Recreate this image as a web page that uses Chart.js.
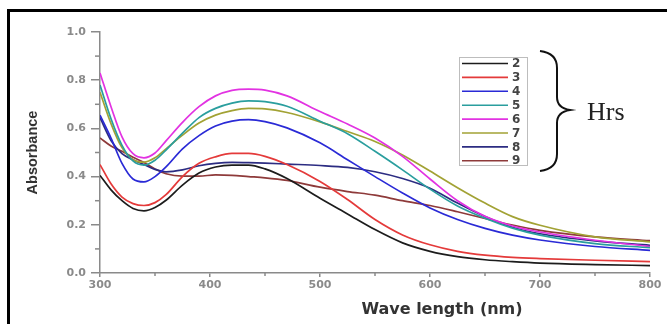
<!DOCTYPE html>
<html><head><meta charset="utf-8">
<script src="https://cdn.jsdelivr.net/npm/chart.js@4/dist/chart.umd.min.js"></script>
<style>html,body{margin:0;padding:0;background:#fff;}#wrap{width:667px;height:324px;position:relative;}</style>
</head><body><div id="wrap"><canvas id="c"></canvas></div>
<script>
const wavelengths = [300,310,320,330,340,350,360,375,390,405,420,435,450,470,500,525,550,575,600,625,650,675,700,750,800];
const hrs2 = [0.405,0.345,0.300,0.268,0.258,0.272,0.302,0.365,0.415,0.440,0.448,0.448,0.432,0.392,0.310,0.245,0.180,0.125,0.090,0.068,0.055,0.047,0.041,0.035,0.031];
const hrs3 = [0.450,0.370,0.315,0.288,0.280,0.292,0.325,0.400,0.455,0.482,0.496,0.496,0.484,0.450,0.380,0.305,0.222,0.158,0.117,0.090,0.074,0.065,0.060,0.053,0.047];
const hrs4 = [0.655,0.560,0.455,0.390,0.378,0.400,0.440,0.515,0.570,0.610,0.630,0.636,0.628,0.602,0.540,0.470,0.400,0.332,0.270,0.222,0.185,0.157,0.137,0.110,0.094];
const hrs5 = [0.780,0.640,0.530,0.465,0.448,0.468,0.510,0.580,0.645,0.683,0.705,0.714,0.711,0.692,0.630,0.578,0.505,0.428,0.348,0.278,0.227,0.186,0.157,0.122,0.105];
const hrs6 = [0.830,0.690,0.565,0.495,0.478,0.498,0.548,0.625,0.690,0.735,0.758,0.763,0.759,0.735,0.670,0.618,0.560,0.484,0.390,0.300,0.235,0.195,0.170,0.136,0.110];
const hrs7 = [0.750,0.620,0.520,0.470,0.460,0.478,0.515,0.572,0.622,0.655,0.674,0.683,0.681,0.666,0.627,0.587,0.546,0.490,0.423,0.354,0.290,0.234,0.198,0.150,0.129];
const hrs8 = [0.645,0.550,0.495,0.470,0.450,0.430,0.420,0.428,0.445,0.455,0.459,0.458,0.456,0.452,0.446,0.438,0.420,0.392,0.352,0.290,0.234,0.190,0.163,0.133,0.115];
const hrs9 = [0.560,0.527,0.505,0.480,0.458,0.432,0.412,0.402,0.402,0.407,0.405,0.400,0.395,0.384,0.356,0.338,0.323,0.300,0.280,0.254,0.226,0.199,0.177,0.150,0.134];
const seriesLabels = ['2','3','4','5','6','7','8','9'];
const seriesValues = [hrs2,hrs3,hrs4,hrs5,hrs6,hrs7,hrs8,hrs9];
const seriesColors = ['#1c1c1c','#e43a3a','#2a2ad6','#2a9e9e','#e232e2','#a2a234','#2c2c82','#8e3a3a'];
const xTickValues = [300,400,500,600,700,800];
const yTickValues = [0.0,0.2,0.4,0.6,0.8,1.0];
const xMinorTicks = [350,450,550,650,750];
const yMinorTicks = [0.1,0.3,0.5,0.7,0.9];
const xTitle = 'Wave length (nm)';
const yTitle = 'Absorbance';
const groupLabel = 'Hrs';

const axisGray = '#8a8a8a';

const decor = {
  id: 'decor',
  beforeDraw(chart) {
    const ctx = chart.ctx;
    ctx.save();
    ctx.fillStyle = '#000';
    ctx.fillRect(7, 9, 660, 3);
    ctx.fillRect(7, 9, 3, 315);
    ctx.restore();
  },
  afterDraw(chart) {
    const ctx = chart.ctx;
    const xs = chart.scales.x, ys = chart.scales.y;
    ctx.save();
    ctx.strokeStyle = axisGray; ctx.lineWidth = 1.5;
    yMinorTicks.forEach(v => {
      const py = ys.getPixelForValue(v);
      ctx.beginPath(); ctx.moveTo(xs.left - 5, py); ctx.lineTo(xs.left, py); ctx.stroke();
    });
    xMinorTicks.forEach(v => {
      const px = xs.getPixelForValue(v);
      ctx.beginPath(); ctx.moveTo(px, ys.bottom); ctx.lineTo(px, ys.bottom + 3); ctx.stroke();
    });
    ctx.fillStyle = '#333';
    ctx.font = 'bold 16px "DejaVu Sans"';
    ctx.textAlign = 'center'; ctx.textBaseline = 'middle';
    ctx.fillText(xTitle, 442, 310);
    const lx = 459.5, ly = 57.5, lw = 68, lh = 108;
    ctx.strokeStyle = '#bdbdbd'; ctx.lineWidth = 1;
    ctx.strokeRect(lx, ly, lw, lh);
    chart.data.datasets.forEach((ds, i) => {
      const y = 63.5 + i * 13.9;
      ctx.strokeStyle = ds.borderColor; ctx.lineWidth = 1.6;
      ctx.beginPath(); ctx.moveTo(462, y); ctx.lineTo(508, y); ctx.stroke();
      ctx.fillStyle = '#444';
      ctx.font = 'bold 12px "DejaVu Sans"';
      ctx.textAlign = 'left'; ctx.textBaseline = 'middle';
      ctx.fillText(ds.label, 512, y + 0.5);
    });
    ctx.strokeStyle = '#111'; ctx.lineWidth = 2;
    ctx.beginPath();
    ctx.moveTo(540, 51);
    ctx.quadraticCurveTo(557, 53, 557, 68);
    ctx.lineTo(557, 97);
    ctx.quadraticCurveTo(557, 108, 570, 110);
    ctx.quadraticCurveTo(557, 112, 557, 123);
    ctx.lineTo(557, 154);
    ctx.quadraticCurveTo(557, 169, 540, 171);
    ctx.stroke();
    ctx.fillStyle = '#222';
    ctx.font = '26px "Liberation Serif"';
    ctx.textAlign = 'left'; ctx.textBaseline = 'alphabetic';
    ctx.fillText(groupLabel, 587, 120);
    ctx.restore();
  }
};

const datasets = seriesLabels.map((lab, i) => ({
  label: lab,
  data: wavelengths.map((w, j) => ({x: w, y: seriesValues[i][j]})),
  borderColor: seriesColors[i],
  backgroundColor: seriesColors[i],
  borderWidth: 1.7,
  pointRadius: 0,
  fill: false,
  cubicInterpolationMode: 'monotone'
}));

new Chart(document.getElementById('c'), {
  type: 'line',
  data: { datasets },
  options: {
    responsive: true,
    maintainAspectRatio: false,
    devicePixelRatio: 1,
    animation: false,
    layout: { padding: { top: 32, right: 17, bottom: 0, left: 0 } },
    plugins: { legend: { display: false }, tooltip: { enabled: false } },
    scales: {
      x: {
        type: 'linear', min: 300, max: 800,
        afterBuildTicks: s => { s.ticks = xTickValues.map(v => ({value: v})); },
        afterFit: s => { s.height = 51; },
        ticks: { color: '#8a8a8a', font: { family: 'DejaVu Sans', weight: 'bold', size: 11 }, padding: 2, maxRotation: 0 },
        grid: { drawOnChartArea: false, tickLength: 4, color: axisGray, lineWidth: 1.5 },
        border: { color: axisGray, width: 1.5 }
      },
      y: {
        type: 'linear', min: 0, max: 1,
        afterBuildTicks: s => { s.ticks = yTickValues.map(v => ({value: v})); },
        afterFit: s => { s.width = 100; },
        ticks: { color: '#8a8a8a', font: { family: 'DejaVu Sans', weight: 'bold', size: 11 }, padding: 5, callback: v => Number(v).toFixed(1) },
        grid: { drawOnChartArea: false, tickLength: 9, color: axisGray, lineWidth: 1.5 },
        border: { color: axisGray, width: 1.5 },
        title: { display: true, text: yTitle, color: '#333', font: { family: 'Liberation Sans', weight: 'bold', size: 14.5 }, padding: { top: 24, bottom: 0 } }
      }
    }
  },
  plugins: [decor]
});
</script></body></html>
